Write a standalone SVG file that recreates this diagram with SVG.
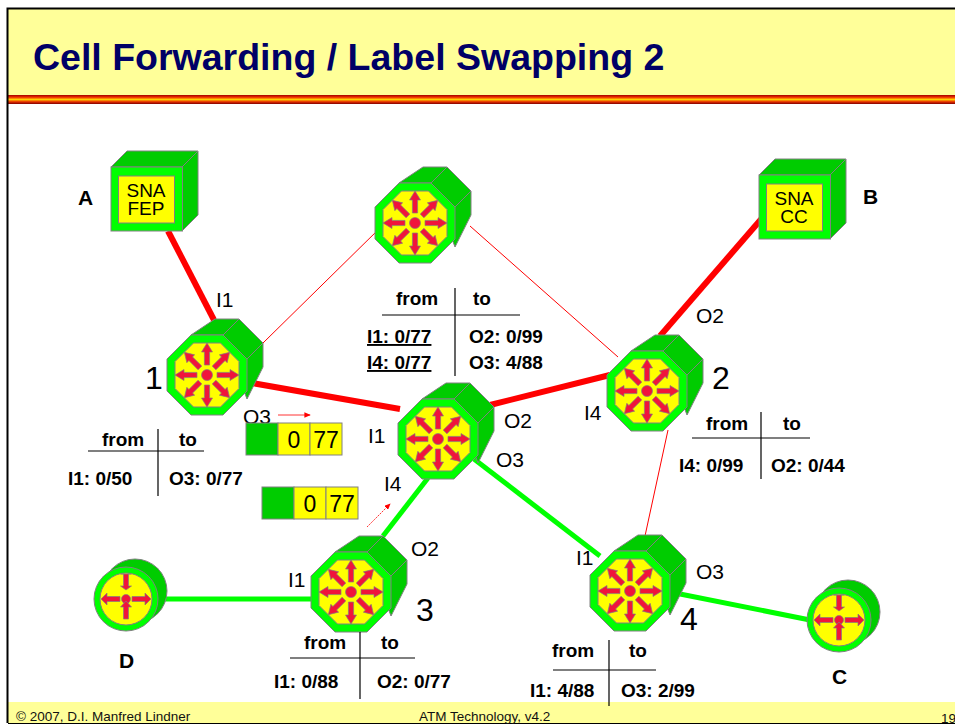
<svg xmlns="http://www.w3.org/2000/svg" xmlns:xlink="http://www.w3.org/1999/xlink" width="955" height="725" viewBox="0 0 955 725">
<style>
.b{font-family:"Liberation Sans",Arial,sans-serif;font-weight:700;fill:#000}
.t{font-size:19px}
.n{font-family:"Liberation Sans Narrow","Liberation Sans",Arial,sans-serif;fill:#000;font-size:21px}
.num{font-size:32px}
.cell{font-family:"Liberation Sans Narrow","Liberation Sans",Arial,sans-serif;font-size:23px;text-anchor:middle}
.f{font-family:"Liberation Sans Narrow","Liberation Sans",Arial,sans-serif;font-size:13.5px;fill:#111}
.s{stroke:#808080;stroke-width:1}
.g{fill:#00cc00}.l{fill:#00ff00}.y{fill:#ffff00}
.ar{fill:#f0143c;stroke:#808080;stroke-width:.7}
.tl{stroke:#000;stroke-width:1.2;fill:none}
.sn{font-family:"Liberation Sans Narrow","Liberation Sans",Arial,sans-serif;font-size:19px;text-anchor:middle}
</style>
<defs>
<path id="a" class="ar" d="M-2.6,-10V-23H-5.5L0,-32L5.5,-23H2.6V-10Z"/>
<g id="router">
<path class="g s" d="M-16,-40L8,-56H32L56,-32V-8L40,24L16,-40Z"/>
<path class="g s" d="M16,-40L32,-56M40,-16L56,-32" fill="none"/>
<path class="l s" d="M-16,-40H16L40,-16V16L16,40H-16L-40,16V-16Z"/>
<path class="y s" d="M-13.500,-32H13.500L32,-13.500V13.500L13.500,32H-13.500L-32,13.500V-13.500Z"/>
<circle r="5.500" fill="#f0143c" stroke="#808080" stroke-width=".7"/>
<use href="#a"/><use href="#a" transform="rotate(45)"/><use href="#a" transform="rotate(90)"/><use href="#a" transform="rotate(135)"/><use href="#a" transform="rotate(180)"/><use href="#a" transform="rotate(225)"/><use href="#a" transform="rotate(270)"/><use href="#a" transform="rotate(315)"/>
</g>
<g id="hub">
<circle cx="9" cy="-8" r="32" class="g s"/>
<circle r="32" class="l s"/>
<circle r="26" class="y s"/>
<circle r="4.500" fill="#f0143c" stroke="#808080" stroke-width=".7"/>
<path class="ar" d="M-2.500,-8V-20H-5.500V-20H5.500H2.500V-8H5.500L0,-4L-5.500,-8Z" transform="translate(0,-5)"/>
<path class="ar" d="M-2.500,-8V-20H2.500V-8H5.500L0,-2L-5.500,-8Z" transform="rotate(180) translate(0,-0)"/>
<path class="ar" d="M6,-2.500H19V-6L25,0L19,6V2.500H6Z"/>
<path class="ar" d="M-6,-2.500H-19V-6L-25,0L-19,6V2.500H-6Z"/>
</g>
<g id="cube">
<path class="g s" d="M0,0L16,-16H87V48L71,64V0Z"/>
<path class="s" fill="none" d="M71,0L87,-16"/>
<rect width="71.500" height="64" class="l s"/>
<rect x="7.500" y="9" width="56" height="47" class="y s"/>
</g>
<g id="cells">
<rect width="32" height="32" class="g s"/>
<rect x="32" width="32" height="32" class="y s"/>
<rect x="64" width="32" height="32" class="y s"/>
<text x="48" y="25" class="cell">0</text><text x="80" y="25" class="cell">77</text>
</g>
<marker id="tip" markerWidth="8" markerHeight="7" refX="7" refY="3.500" orient="auto"><path d="M0,0L8,3.500L0,7Z" fill="#f00"/></marker>
<linearGradient id="st" x1="0" y1="0" x2="0" y2="1">
<stop offset="0" stop-color="#a00000"/><stop offset=".25" stop-color="#f03000"/><stop offset=".5" stop-color="#ffd000"/><stop offset=".75" stop-color="#e83000"/><stop offset="1" stop-color="#800000"/>
</linearGradient>
</defs>
<rect width="955" height="725" fill="#fff"/>
<g id="frame">
<rect x="8" y="9" width="947" height="87" fill="#ffff99"/>
<rect x="7" y="95" width="948" height="9" fill="url(#st)"/>
<rect x="8" y="702" width="947" height="21" fill="#ffff99"/>
<path d="M7.500,723V8.500H955" fill="none" stroke="#000" stroke-width="2"/>
<path d="M8,723.500H955" stroke="#000" stroke-width="1"/>
<text x="33" y="70" font-family="Liberation Sans,Arial,sans-serif" font-weight="700" font-size="37.500px" fill="#000066">Cell Forwarding / Label Swapping 2</text>
<text x="16" y="721" class="f">© 2007, D.I. Manfred Lindner</text>
<text x="419" y="721" class="f">ATM Technology, v4.2</text>
<text x="941" y="723" class="f" font-size="15">19</text>
</g>
<g id="connectors" fill="none">
<path d="M168,231L214,320" stroke="#f00" stroke-width="6"/>
<path d="M763,217L660,336" stroke="#f00" stroke-width="6"/>
<path d="M252,383L400,409M490,405L610,375" stroke="#f00" stroke-width="6"/>
<path d="M263,343L380,228M470,226L618,357M668,430L645,536" stroke="#f00" stroke-width="1"/>
<path d="M428,478L383,536" stroke="#0f0" stroke-width="5"/>
<path d="M474,459L600,556" stroke="#0f0" stroke-width="5"/>
<path d="M160,599H312" stroke="#0f0" stroke-width="5"/>
<path d="M670,592L810,620" stroke="#0f0" stroke-width="5"/>
<path d="M278,415H310" stroke="#f00" stroke-width=".8" marker-end="url(#tip)"/>
<path d="M367,527L390,504" stroke="#f00" stroke-width=".8" stroke-dasharray="2 1" marker-end="url(#tip)"/>
</g>
<g id="nodeA"><use href="#cube" x="111" y="167"/><text class="sn"><tspan x="146" y="197">SNA</tspan><tspan x="146" y="215">FEP</tspan></text><text x="78" y="205" class="b" font-size="21">A</text></g>
<g id="nodeB"><use href="#cube" x="759" y="175"/><text class="sn"><tspan x="794" y="205">SNA</tspan><tspan x="794" y="223">CC</tspan></text><text x="863" y="204" class="b" font-size="21">B</text></g>
<g id="router1"><use href="#router" x="207" y="375"/><text x="145" y="389" class="n num">1</text><text x="216" y="307" class="n">I1</text><text x="243" y="424" class="n">O3</text></g>
<g id="routerTop"><use href="#router" x="415" y="223"/></g>
<g id="router2"><use href="#router" x="647" y="391"/><text x="712" y="389" class="n num">2</text><text x="696" y="323" class="n">O2</text><text x="584" y="420" class="n">I4</text></g>
<g id="routerCenter"><use href="#router" x="438" y="439"/><text x="368" y="443" class="n">I1</text><text x="504" y="428" class="n">O2</text><text x="496" y="467" class="n">O3</text><text x="384" y="491" class="n">I4</text></g>
<g id="router3"><use href="#router" x="351" y="592"/><text x="288" y="587" class="n">I1</text><text x="411" y="556" class="n">O2</text><text x="416" y="621" class="n num">3</text></g>
<g id="router4"><use href="#router" x="630" y="591"/><text x="576" y="565" class="n">I1</text><text x="696" y="579" class="n">O3</text><text x="680" y="630" class="n num">4</text></g>
<g id="nodeD"><use href="#hub" x="126" y="599"/><text x="119" y="668" class="b" font-size="21">D</text></g>
<g id="nodeC"><use href="#hub" x="839" y="620"/><text x="832" y="684" class="b" font-size="21">C</text></g>
<g id="cellA"><use href="#cells" x="246" y="423"/></g>
<g id="cellB"><use href="#cells" x="262" y="487"/></g>
<g id="tableTop"><path class="tl" d="M382,315H520M455,288V376"/><text x="396" y="305" class="b t">from</text><text x="473" y="305" class="b t">to</text><text x="367" y="343" class="b t" text-decoration="underline">I1: 0/77</text><text x="367" y="369" class="b t" text-decoration="underline">I4: 0/77</text><text x="469" y="343" class="b t">O2: 0/99</text><text x="469" y="369" class="b t">O3: 4/88</text></g>
<g id="table1"><path class="tl" d="M88,451H204M158,429V496"/><text x="102" y="446" class="b t">from</text><text x="179" y="446" class="b t">to</text><text x="68" y="485" class="b t">I1: 0/50</text><text x="169" y="485" class="b t">O3: 0/77</text></g>
<g id="table2"><path class="tl" d="M692,438H810M761,412V479"/><text x="706" y="430" class="b t">from</text><text x="783" y="430" class="b t">to</text><text x="679" y="472" class="b t">I4: 0/99</text><text x="771" y="472" class="b t">O2: 0/44</text></g>
<g id="table3"><path class="tl" d="M290,658H415M360,632V699"/><text x="304" y="649" class="b t">from</text><text x="381" y="649" class="b t">to</text><text x="274" y="688" class="b t">I1: 0/88</text><text x="377" y="688" class="b t">O2: 0/77</text></g>
<g id="table4"><path class="tl" d="M553,670H656M609,640V706"/><text x="552" y="657" class="b t">from</text><text x="629" y="657" class="b t">to</text><text x="530" y="697" class="b t">I1: 4/88</text><text x="621" y="697" class="b t">O3: 2/99</text></g>
</svg>
